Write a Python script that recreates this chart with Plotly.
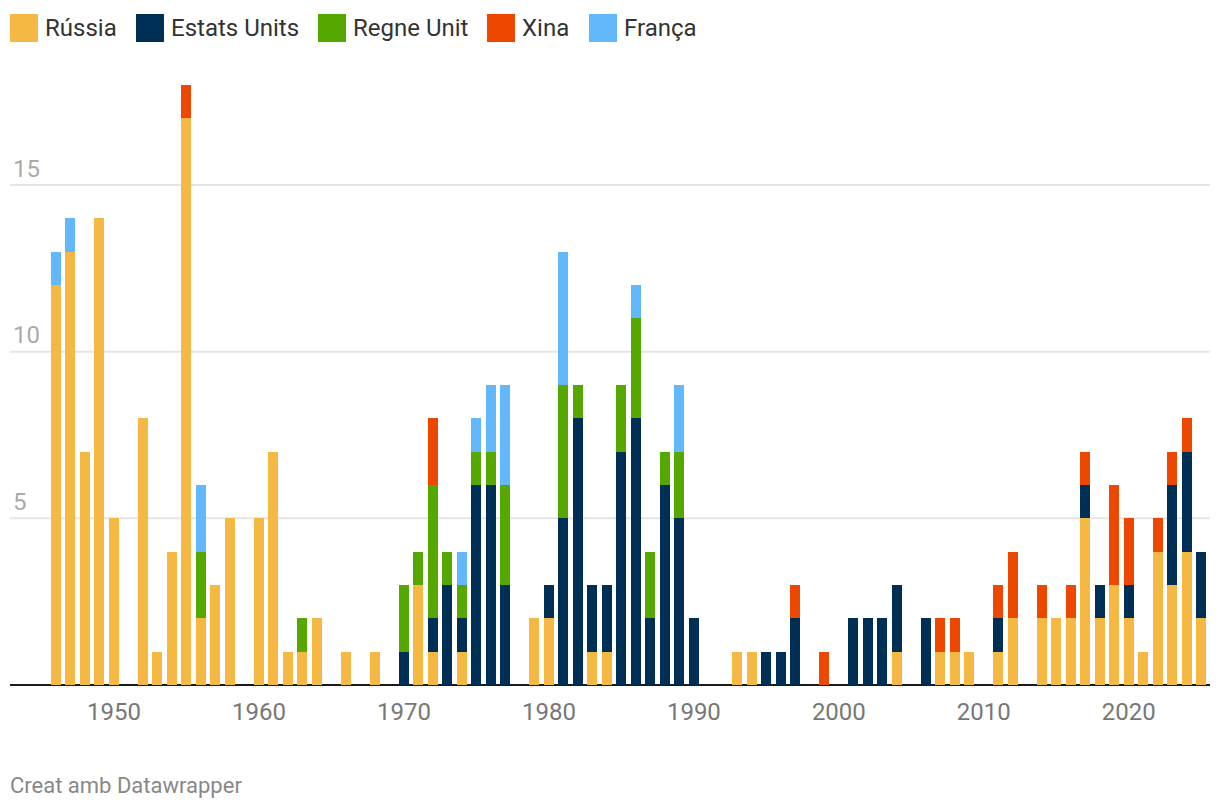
import plotly.graph_objects as go

years = list(range(1946, 2026))

russia = [12, 13, 7, 14, 5, 0, 8, 1, 4, 17, 2, 3, 5, 0, 5, 7, 1, 1, 2, 0,
          1, 0, 1, 0, 0, 3, 1, 0, 1, 0, 0, 0, 0, 2, 2, 0, 0, 1, 1, 0,
          0, 0, 0, 0, 0, 0, 0, 1, 1, 0, 0, 0, 0, 0, 0, 0, 0, 0, 1, 0,
          0, 1, 1, 1, 0, 1, 2, 0, 2, 2, 2, 5, 2, 3, 2, 1, 4, 3, 4, 2]
usa = [0, 0, 0, 0, 0, 0, 0, 0, 0, 0, 0, 0, 0, 0, 0, 0, 0, 0, 0, 0,
       0, 0, 0, 0, 1, 0, 1, 3, 1, 6, 6, 3, 0, 0, 1, 5, 8, 2, 2, 7,
       8, 2, 6, 5, 2, 0, 0, 0, 0, 1, 1, 2, 0, 0, 0, 2, 2, 2, 2, 0,
       2, 0, 0, 0, 0, 1, 0, 0, 0, 0, 0, 1, 1, 0, 1, 0, 0, 3, 3, 2]
uk = [0, 0, 0, 0, 0, 0, 0, 0, 0, 0, 2, 0, 0, 0, 0, 0, 0, 1, 0, 0,
      0, 0, 0, 0, 2, 1, 4, 1, 1, 1, 1, 3, 0, 0, 0, 4, 1, 0, 0, 2,
      3, 2, 1, 2, 0, 0, 0, 0, 0, 0, 0, 0, 0, 0, 0, 0, 0, 0, 0, 0,
      0, 0, 0, 0, 0, 0, 0, 0, 0, 0, 0, 0, 0, 0, 0, 0, 0, 0, 0, 0]
china = [0, 0, 0, 0, 0, 0, 0, 0, 0, 1, 0, 0, 0, 0, 0, 0, 0, 0, 0, 0,
         0, 0, 0, 0, 0, 0, 2, 0, 0, 0, 0, 0, 0, 0, 0, 0, 0, 0, 0, 0,
         0, 0, 0, 0, 0, 0, 0, 0, 0, 0, 0, 1, 0, 1, 0, 0, 0, 0, 0, 0,
         0, 1, 1, 0, 0, 1, 2, 0, 1, 0, 1, 1, 0, 3, 2, 0, 1, 1, 1, 0]
france = [1, 1, 0, 0, 0, 0, 0, 0, 0, 0, 2, 0, 0, 0, 0, 0, 0, 0, 0, 0,
          0, 0, 0, 0, 0, 0, 0, 0, 1, 1, 2, 3, 0, 0, 0, 4, 0, 0, 0, 0,
          1, 0, 0, 2, 0, 0, 0, 0, 0, 0, 0, 0, 0, 0, 0, 0, 0, 0, 0, 0,
          0, 0, 0, 0, 0, 0, 0, 0, 0, 0, 0, 0, 0, 0, 0, 0, 0, 0, 0, 0]

series_names = ["Rússia", "Estats Units", "Regne Unit", "Xina", "França"]
series_values = [russia, usa, uk, china, france]
colors = ["#f5b843", "#002f56", "#55a800", "#ee4700", "#62b8fb"]

x_tick_vals = [1950, 1960, 1970, 1980, 1990, 2000, 2010, 2020]
x_tick_text = [str(v) for v in x_tick_vals]
y_tick_vals = [5, 10, 15]
y_tick_text = ["5", "10", "15"]

fig = go.Figure()
for name, vals, col in zip(series_names, series_values, colors):
    fig.add_trace(go.Bar(x=years, y=vals, name=name, marker_color=col,
                         marker_line_width=0, showlegend=False))

W, H = 1220, 808
ML, MR, MT, MB = 10, 10, 85, 123
pw = W - ML - MR
ph = H - MT - MB

def px_x(p):
    return (p - ML) / pw

def px_y(p):
    return (H - MB - p) / ph

shapes = []
annotations = []

# gridlines across the full plot width
for yv in y_tick_vals:
    shapes.append(dict(type="line", xref="paper", yref="y", x0=0, x1=1, y0=yv, y1=yv,
                       line=dict(color="#e5e5e5", width=2), layer="below"))

# custom legend
leg_x = [10, 136, 318, 487, 589]
for lx, name, col in zip(leg_x, series_names, colors):
    shapes.append(dict(type="rect", xref="paper", yref="paper",
                       x0=px_x(lx), x1=px_x(lx + 28), y0=px_y(42), y1=px_y(14),
                       fillcolor=col, line_width=0))
    annotations.append(dict(text=name, xref="paper", yref="paper",
                            x=px_x(lx + 33), y=px_y(28), xanchor="left", yanchor="middle",
                            showarrow=False, font=dict(size=24, color="#333333", family="Roboto")))

annotations.append(dict(text="Creat amb Datawrapper", xref="paper", yref="paper",
                        x=px_x(8), y=px_y(785), xanchor="left", yanchor="middle",
                        showarrow=False, font=dict(size=22, color="#888888", family="Roboto")))

fig.update_layout(
    width=W, height=H,
    margin=dict(l=ML, r=MR, t=MT, b=MB),
    barmode="stack",
    bargap=0.31,
    plot_bgcolor="white",
    paper_bgcolor="white",
    font=dict(family="Roboto"),
    shapes=shapes,
    annotations=annotations,
    xaxis=dict(range=[1942.83, 2025.6], tickvals=x_tick_vals, ticktext=x_tick_text,
               showgrid=False, ticks="", showline=False, zeroline=False,
               tickfont=dict(size=24, color="#777777", family="Roboto"),
               ticklabelstandoff=10, fixedrange=True),
    yaxis=dict(range=[0, 18], tickvals=y_tick_vals, ticktext=y_tick_text,
               showgrid=False,
               zeroline=True, zerolinecolor="#1a1a1a", zerolinewidth=2,
               ticklabelposition="inside top", ticks="",
               tickfont=dict(size=24, color="#aaaaaa", family="Roboto"),
               showline=False, fixedrange=True),
)

fig.write_html("out.html", config={"displayModeBar": False},
               post_script="document.body.style.margin='0';")
